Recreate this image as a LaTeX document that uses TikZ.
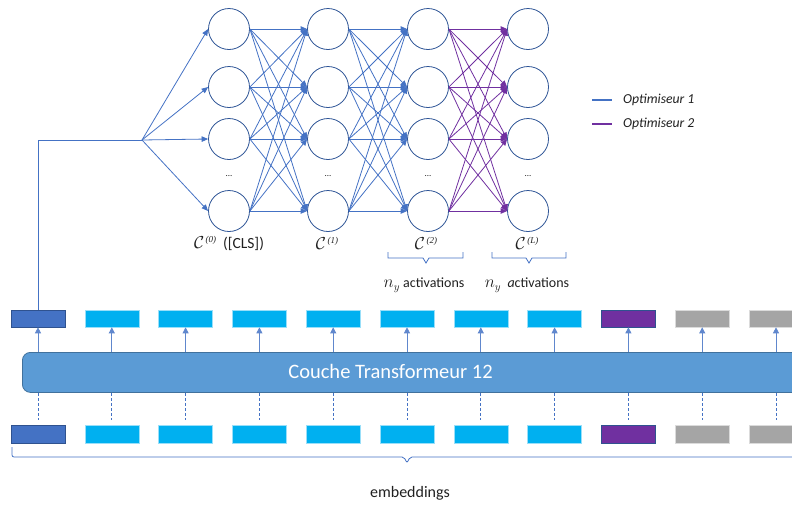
\documentclass[tikz,border=0pt]{standalone}
\usepackage{fontspec}
\setmainfont{Carlito}
\newfontfamily\supfont{Liberation Serif}
\usetikzlibrary{arrows.meta}
\definecolor{eblue}{HTML}{4472C4}
\definecolor{cborder}{HTML}{2F5597}
\definecolor{epurple}{HTML}{7030A0}
\definecolor{cyanbox}{HTML}{00B0F0}
\definecolor{greybox}{HTML}{A5A5A5}
\definecolor{tfill}{HTML}{5B9BD5}
\definecolor{tborder}{HTML}{41719C}
\definecolor{clsborder}{HTML}{2F528F}
\definecolor{txt}{HTML}{202020}
\newcommand{\layerC}[1]{{\fontsize{17.5}{20}\selectfont$\mathcal{C}$}\raisebox{6pt}{\fontsize{9}{10}\selectfont\supfont\itshape\,(#1)}}
\newcommand{\nyact}{{\fontsize{16}{18}\selectfont$n_y$}}
\begin{document}
\begin{tikzpicture}[x=1pt,y=-1pt,
  neuron/.style={circle,draw=cborder,line width=0.8pt,fill=white,minimum size=41pt,inner sep=0pt},
  edgeb/.style={draw=eblue,line width=0.8pt,-{Triangle[length=6.5pt,width=5.5pt]}},
  edgep/.style={draw=epurple,line width=0.8pt,-{Triangle[length=6.5pt,width=5.5pt]}},
  tokbase/.style={minimum width=54pt,minimum height=17pt,inner sep=0pt,line width=0.6pt},
  clstok/.style={tokbase,fill=eblue,draw=clsborder},
  cyantok/.style={tokbase,fill=cyanbox,draw=cyanbox!40!white},
  purptok/.style={tokbase,fill=epurple,draw=clsborder},
  greytok/.style={tokbase,fill=greybox,draw=greybox!40!white},
  uparrow/.style={draw=eblue!85!white,line width=0.8pt,-{Triangle[length=6pt,width=6pt]}},
  dashline/.style={draw=eblue,line width=0.8pt,dash pattern=on 3pt off 2pt},
  bracecol/.style={draw=eblue,line width=0.8pt},
  lab/.style={inner sep=0pt,text=txt},
]
\useasboundingbox (0,0) rectangle (792,504);
\clip (0,0) rectangle (792,504);

% transformer layer
\node[draw=tborder,fill=tfill,line width=0.8pt,rounded corners=8pt,anchor=north west,
      minimum width=790pt,minimum height=40pt,inner sep=0pt] (tr) at (22,352) {};
\node[lab,text=white,font=\fontsize{20.5}{24}\selectfont] (trlab) at (390.5,371) {Couche Transformeur 12};

% token rows
\foreach \i/\s in {1/clstok,2/cyantok,3/cyantok,4/cyantok,5/cyantok,6/cyantok,7/cyantok,8/cyantok,9/purptok,10/greytok,11/greytok}{
  \node[\s] (t\i) at ({38+73.8*(\i-1)},318.5) {};
  \node[\s,minimum height=18pt] (b\i) at ({38+73.8*(\i-1)},434) {};
  \draw[uparrow] (t\i |- tr.north) -- (t\i.south);
  \draw[dashline] (b\i |- tr.south) -- ([yshift=5pt]b\i.north);
}

% neurons
\foreach \l/\x in {0/229,1/328,2/428,3/528}{
  \foreach \r/\y in {1/29,2/87,3/139,4/211}{
    \node[neuron] (n\l\r) at (\x,\y) {};
  }
  \node[lab,font=\small] (d\l) at (\x,176) {...};
}
\foreach \a in {1,...,4}{
  \foreach \b in {1,...,4}{
    \draw[edgeb] (n0\a.east) -- (n1\b.west);
    \draw[edgeb] (n1\a.east) -- (n2\b.west);
    \draw[edgep] (n2\a.east) -- (n3\b.west);
  }
}

% fan from CLS
\coordinate (fan) at (142,140);
\draw[draw=eblue,line width=0.8pt] (t1.north) |- (fan);
\foreach \r in {1,...,4}{
  \draw[edgeb] (fan) -- (n0\r.west);
}

% layer labels
\node[lab,font=\fontsize{15.5}{18}\selectfont] (c0) at (229,243) {\layerC{0}\ \ ([CLS])};
\node[lab] (c1) at (327,243) {\layerC{1}};
\node[lab] (c2) at (426,243) {\layerC{2}};
\node[lab] (c3) at (527,243) {\layerC{L}};

% braces
\draw[bracecol] (388,252) -- (388,258) -- (423,258) -- (426,263) -- (429,258) -- (463,258) -- (463,252);
\draw[bracecol] (492,252) -- (492,258) -- (526,258) -- (529,263) -- (532,258) -- (566,258) -- (566,252);
\node[lab,font=\fontsize{14}{16}\selectfont] (a1) at (424,285) {\nyact\ activations};
\node[lab,font=\fontsize{14}{16}\selectfont] (a2) at (527,285) {\nyact\ \ \textit{a}ctivations};

% bottom brace
\draw[bracecol,rounded corners=2pt] (12,447) -- (12,457) -- (404,457) -- (407,463) -- (410,457) -- (800,457);
\node[lab,font=\fontsize{16}{19}\selectfont] (emb) at (410,493) {embeddings};

% legend
\coordinate (lg1a) at (592,100); \coordinate (lg1b) at (612,100);
\coordinate (lg2a) at (592,124); \coordinate (lg2b) at (612,124);
\draw[draw=eblue,line width=2.5pt] (lg1a) -- (lg1b);
\draw[draw=epurple,line width=2.5pt] (lg2a) -- (lg2b);
\node[lab,anchor=west,font=\fontsize{13.7}{16}\selectfont\itshape] (lt1) at (623,100) {Optimiseur 1};
\node[lab,anchor=west,font=\fontsize{13.7}{16}\selectfont\itshape] (lt2) at (623,124) {Optimiseur 2};
\end{tikzpicture}
\end{document}
